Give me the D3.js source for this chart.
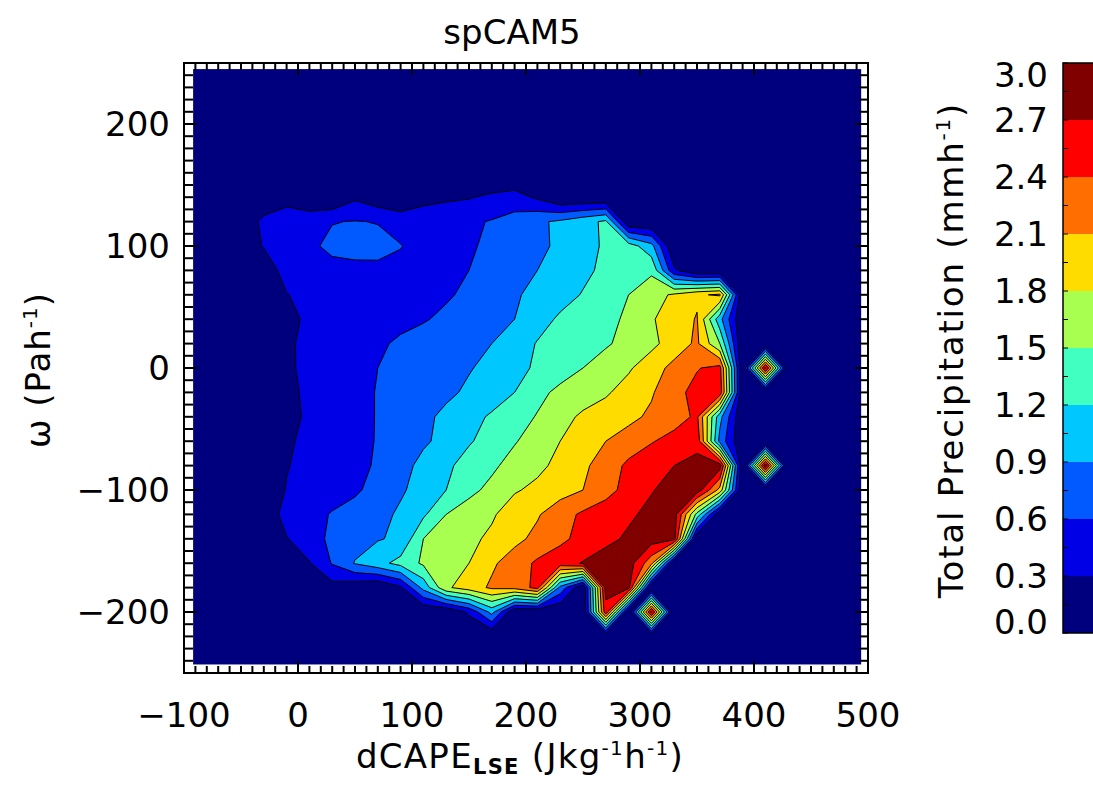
<!DOCTYPE html>
<html>
<head>
<meta charset="utf-8">
<script src="https://cdn.jsdelivr.net/npm/d3@7"></script>
<style>
  body { margin: 0; background: #fff; overflow: hidden; }
  text { font-family: "DejaVu Sans", sans-serif; fill: #000; }
</style>
</head>
<body>
<script>
// grid nodes (dCAPE along x, omega along y) and binned precipitation (mm/h)
var gridX = [-90, -70, -50, -30, -10, 10, 30, 50, 70, 90, 110, 130, 150, 170, 190,
             210, 230, 250, 270, 290, 310, 330, 350, 370, 390, 410, 430, 450, 470, 490];
var gridY = [240, 220, 200, 180, 160, 140, 120, 100, 80, 60, 40, 20, 0, -20, -40,
             -60, -80, -100, -120, -140, -160, -180, -200, -220, -240];

var precip = [
  [0,0,0,0,0,0,0,0,0,0,0,0,0,0,0,0,0,0,0,0,0,0,0,0,0,0,0,0,0,0],
  [0,0,0,0,0,0,0,0,0,0,0,0,0,0,0,0,0,0,0,0,0,0,0,0,0,0,0,0,0,0],
  [0,0,0,0,0,0,0,0,0,0,0,0,0,0,0,0,0,0,0,0,0,0,0,0,0,0,0,0,0,0],
  [0,0,0,0,0,0,0,0,0,0,0,0,0,0,0,0,0,0,0,0,0,0,0,0,0,0,0,0,0,0],
  [0,0,0,0,0,0,0,0,0,0,0,0,0,0,0,0,0,0,0,0,0,0,0,0,0,0,0,0,0,0],
  [0,0,0,0,0.2,0,0,0.25,0.1,0,0.2,0.25,0.28,0.36,0.42,0.25,0,0,0,0,0,0,0,0,0,0,0,0,0,0],
  [0,0,0,0.4,0.45,0.52,0.59,0.61,0.59,0.5,0.48,0.5,0.55,0.62,0.72,0.85,0.95,1.1,1.25,0,0,0,0,0,0,0,0,0,0,0],
  [0,0,0,0.33,0.4,0.55,0.66,0.68,0.67,0.61,0.5,0.53,0.57,0.65,0.75,0.84,0.95,1.1,1.24,1.35,1.0,0,0,0,0,0,0,0,0,0],
  [0,0,0,0,0.5,0.52,0.52,0.54,0.55,0.53,0.55,0.57,0.6,0.7,0.8,0.9,1.02,1.13,1.27,1.38,1.45,0.35,0,0,0,0,0,0,0,0],
  [0,0,0,0,0.28,0.45,0.47,0.48,0.5,0.52,0.54,0.57,0.65,0.75,0.87,0.97,1.08,1.22,1.36,1.5,1.67,1.85,2.05,2.15,0,0,0,0,0,0],
  [0,0,0,0,0,0.5,0.5,0.5,0.52,0.55,0.58,0.65,0.73,0.8,0.9,1.07,1.25,1.35,1.42,1.55,1.77,1.95,2.12,1.0,0,0,0,0,0,0],
  [0,0,0,0,0.19,0.47,0.5,0.53,0.57,0.63,0.7,0.77,0.84,0.9,1.03,1.22,1.3,1.38,1.47,1.58,1.72,1.95,2.15,1.5,0,0,0,0,0,0],
  [0,0,0,0,0.2,0.45,0.5,0.55,0.6,0.66,0.73,0.8,0.88,0.98,1.1,1.25,1.37,1.5,1.62,1.76,1.98,2.18,2.38,2.5,0,2.8,0,0,0,0],
  [0,0,0,0,0.15,0.42,0.48,0.54,0.61,0.68,0.76,0.84,0.95,1.05,1.2,1.42,1.57,1.66,1.76,1.93,2.07,2.3,2.5,2.6,0,0,0,0,0,0],
  [0,0,0,0,0.08,0.42,0.48,0.54,0.61,0.72,0.83,0.97,1.1,1.24,1.37,1.52,1.7,1.85,1.95,2.03,2.15,2.28,2.45,1.0,0,0,0,0,0,0],
  [0,0,0,0,0.21,0.45,0.5,0.55,0.61,0.72,0.86,0.98,1.17,1.32,1.48,1.62,1.8,1.95,2.1,2.22,2.38,2.5,2.6,0.8,0,0,0,0,0,0],
  [0,0,0,0,0.28,0.42,0.48,0.53,0.63,0.8,0.98,1.14,1.32,1.45,1.6,1.73,1.88,2.05,2.22,2.47,2.58,2.7,2.8,2.85,0,2.9,0,0,0,0],
  [0,0,0,0,0.32,0.42,0.48,0.56,0.69,0.86,1.02,1.2,1.43,1.57,1.77,1.87,1.98,2.1,2.3,2.5,2.68,2.82,2.88,2.0,0,0,0,0,0,0],
  [0,0,0,0,0.46,0.5,0.62,0.7,0.8,0.95,1.15,1.5,1.63,1.76,1.96,2.07,2.28,2.45,2.55,2.65,2.78,2.85,1.4,0,0,0,0,0,0,0],
  [0,0,0,0,0.28,0.5,0.65,0.77,0.88,0.95,1.5,1.62,1.73,1.86,2.02,2.18,2.33,2.5,2.62,2.75,2.85,2.8,0,0,0,0,0,0,0,0],
  [0,0,0,0,0,0.28,0.62,0.92,1.1,1.3,1.55,1.68,1.8,2.05,2.25,2.45,2.58,2.72,2.85,2.85,2.2,0,0,0,0,0,0,0,0,0],
  [0,0,0,0,0,0,0.19,0.09,0,0.25,1.0,1.75,1.95,2.15,2.2,2.5,0.8,0,2.8,2.8,0,0,0,0,0,0,0,0,0,0],
  [0,0,0,0,0,0,0,0,0,0,0,0,0.35,1.0,0,0,0,0,2.6,0,2.8,0,0,0,0,0,0,0,0,0],
  [0,0,0,0,0,0,0,0,0,0,0,0,0,0,0,0,0,0,0,0,0,0,0,0,0,0,0,0,0,0],
  [0,0,0,0,0,0,0,0,0,0,0,0,0,0,0,0,0,0,0,0,0,0,0,0,0,0,0,0,0,0]
];

var levels = [0.0, 0.3, 0.6, 0.9, 1.2, 1.5, 1.8, 2.1, 2.4, 2.7, 3.0];
var levelColors = ["#00007f", "#0000e6", "#005aff", "#00c8ff", "#40ffc0",
                   "#a8ff50", "#ffdc00", "#ff6e00", "#ff0000", "#800000"];
var levelLabels = ["0.0", "0.3", "0.6", "0.9", "1.2", "1.5", "1.8", "2.1", "2.4", "2.7", "3.0"];

var xTicks = [-100, 0, 100, 200, 300, 400, 500];
var yTicks = [-200, -100, 0, 100, 200];

var width = 1093,
    height = 787;

var svg = d3.select("body")
  .append("svg")
  .attr("width", width)
  .attr("height", height);

var x = d3.scaleLinear().domain([-100, 500]).range([184, 868]);
var y = d3.scaleLinear().domain([-250, 250]).range([673, 63]);

// filled area of the plot (slightly inside the frame)
svg.append("rect")
    .attr("x", x(-92))
    .attr("y", y(245))
    .attr("width", x(494) - x(-92))
    .attr("height", y(-243) - y(245))
    .attr("fill", levelColors[0]);

// contours
var nx = gridX.length, ny = gridY.length;
var stepX = gridX[1] - gridX[0], stepY = gridY[1] - gridY[0];

var contours = d3.contours()
    .size([nx, ny])
    .thresholds(levels.slice(1, -1))(precip.flat());

var gridToPlot = d3.geoTransform({
  point: function(c, r) {
    this.stream.point(x(gridX[0] + (c - 0.5) * stepX), y(gridY[0] + (r - 0.5) * stepY));
  }
});
var path = d3.geoPath(gridToPlot);

svg.append("g")
    .attr("class", "contours")
  .selectAll("path")
    .data(contours)
  .enter().append("path")
    .attr("d", path)
    .attr("fill", function(d, i) { return levelColors[i + 1]; })
    .attr("stroke", "#000")
    .attr("stroke-width", 1)
    .attr("stroke-linejoin", "round");

// frame with IDL style ticks on all four sides
var frame = svg.append("g").attr("class", "frame");

frame.append("rect")
    .attr("x", 184).attr("y", 63)
    .attr("width", 868 - 184).attr("height", 673 - 63)
    .attr("fill", "none")
    .attr("stroke", "#000")
    .attr("stroke-width", 2);

var xMinor = d3.range(-100, 501, 10);
var yMinor = d3.range(-250, 251, 10);

frame.selectAll(".xtick")
    .data(xMinor)
  .enter().append("g")
    .each(function(d) {
      var len = (d % 100 === 0) ? 12 : 7;
      var g = d3.select(this);
      g.append("line")
          .attr("x1", x(d)).attr("x2", x(d))
          .attr("y1", 673).attr("y2", 673 - len);
      g.append("line")
          .attr("x1", x(d)).attr("x2", x(d))
          .attr("y1", 63).attr("y2", 63 + len);
    });

frame.selectAll(".ytick")
    .data(yMinor)
  .enter().append("g")
    .each(function(d) {
      var len = (d % 100 === 0) ? 13 : 9;
      var g = d3.select(this);
      g.append("line")
          .attr("y1", y(d)).attr("y2", y(d))
          .attr("x1", 184).attr("x2", 184 + len);
      g.append("line")
          .attr("y1", y(d)).attr("y2", y(d))
          .attr("x1", 868).attr("x2", 868 - len);
    });

frame.selectAll("line")
    .attr("stroke", "#000")
    .attr("stroke-width", 2);

function fmt(v) { return v < 0 ? "\u2212" + Math.abs(v) : String(v); }

svg.append("g")
  .selectAll("text")
    .data(xTicks)
  .enter().append("text")
    .attr("x", function(d) { return x(d); })
    .attr("y", 727)
    .attr("text-anchor", "middle")
    .attr("font-size", 34)
    .text(fmt);

svg.append("g")
  .selectAll("text")
    .data(yTicks)
  .enter().append("text")
    .attr("x", 170)
    .attr("y", function(d) { return y(d) + 12; })
    .attr("text-anchor", "end")
    .attr("font-size", 34)
    .text(fmt);

// titles
svg.append("text")
    .attr("x", 512)
    .attr("y", 44)
    .attr("text-anchor", "middle")
    .attr("font-size", 34)
    .text("spCAM5");

var xTitle = svg.append("text")
    .attr("x", 520)
    .attr("y", 768)
    .attr("text-anchor", "middle")
    .attr("font-size", 34)
    .attr("letter-spacing", 1.3);
xTitle.append("tspan").text("dCAPE");
xTitle.append("tspan").attr("font-size", 21).attr("font-weight", "bold").attr("dy", 6).text("LSE");
xTitle.append("tspan").attr("dy", -6).text(" (Jkg");
xTitle.append("tspan").attr("font-size", 20).attr("dy", -13).text("-1");
xTitle.append("tspan").attr("dy", 13).text("h");
xTitle.append("tspan").attr("font-size", 20).attr("dy", -13).text("-1");
xTitle.append("tspan").attr("dy", 13).text(")");

var yTitle = svg.append("text")
    .attr("transform", "translate(50,370) rotate(-90)")
    .attr("text-anchor", "middle")
    .attr("font-size", 34)
    .attr("letter-spacing", 1);
yTitle.append("tspan").text("\u03c9 (Pah");
yTitle.append("tspan").attr("font-size", 20).attr("dy", -13).text("-1");
yTitle.append("tspan").attr("dy", 13).text(")");

// colour bar
var cbTop = 63, cbBottom = 633, cbLeft = 1063;
var cb = d3.scaleLinear().domain([0, 3]).range([cbBottom, cbTop]);

var bar = svg.append("g").attr("class", "colorbar");

bar.selectAll("rect")
    .data(levelColors)
  .enter().append("rect")
    .attr("x", cbLeft)
    .attr("y", function(d, i) { return cb(levels[i + 1]); })
    .attr("width", 60)
    .attr("height", function(d, i) { return cb(levels[i]) - cb(levels[i + 1]); })
    .attr("fill", function(d) { return d; });

bar.append("rect")
    .attr("x", cbLeft).attr("y", cbTop)
    .attr("width", 60).attr("height", cbBottom - cbTop)
    .attr("fill", "none")
    .attr("stroke", "#000")
    .attr("stroke-width", 1.5);

bar.selectAll(".cbtick")
    .data(d3.range(0, 3.001, 0.15))
  .enter().append("line")
    .attr("x1", cbLeft).attr("x2", cbLeft + 5)
    .attr("y1", function(d) { return cb(d); })
    .attr("y2", function(d) { return cb(d); })
    .attr("stroke", "#000")
    .attr("stroke-width", 1);

bar.selectAll("text")
    .data(levelLabels)
  .enter().append("text")
    .attr("x", 1048)
    .attr("y", function(d, i) {
      var yy = cb(levels[i]);
      if (i === 0) yy -= 11;
      if (i === levels.length - 1) yy += 12;
      return yy + 12;
    })
    .attr("text-anchor", "end")
    .attr("font-size", 34)
    .text(function(d) { return d; });

var cbTitle = svg.append("text")
    .attr("transform", "translate(963,350) rotate(-90)")
    .attr("text-anchor", "middle")
    .attr("font-size", 34)
    .attr("letter-spacing", 1.8);
cbTitle.append("tspan").text("Total Precipitation (mmh");
cbTitle.append("tspan").attr("font-size", 20).attr("dy", -13).text("-1");
cbTitle.append("tspan").attr("dy", 13).text(")");
</script>
</body>
</html>
